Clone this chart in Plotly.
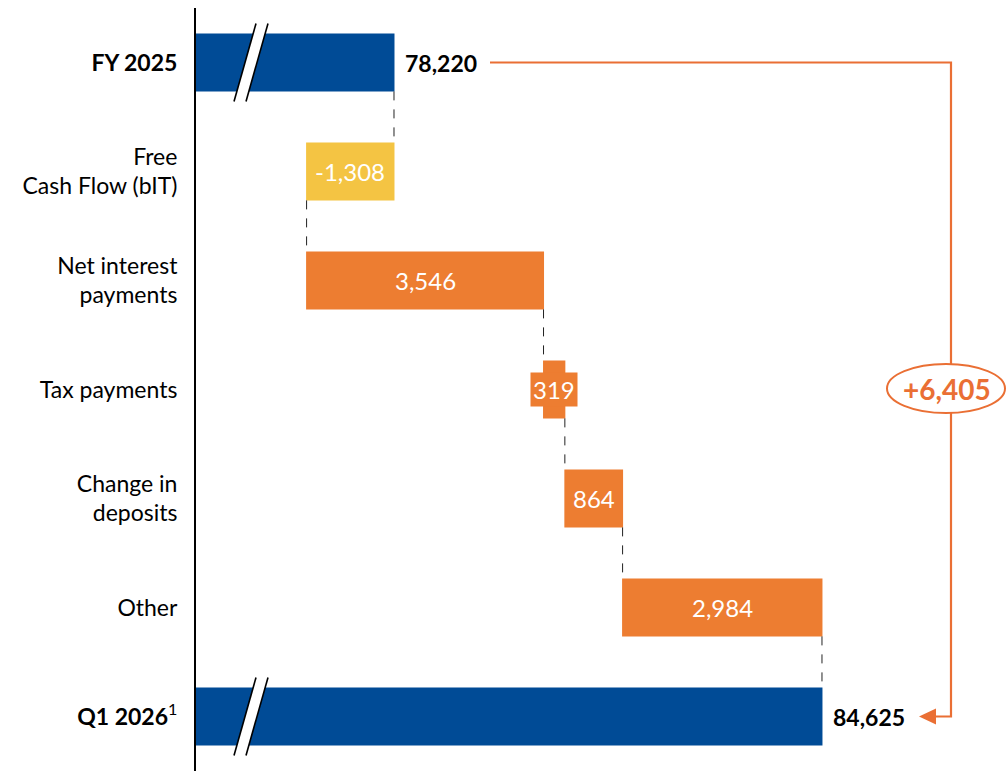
import plotly.graph_objects as go

# --- data -------------------------------------------------------------
categories = ["FY 2025", "Free Cash Flow (bIT)", "Net interest payments",
              "Tax payments", "Change in deposits", "Other", "Q1 2026"]
tick_labels = ["<b>FY 2025</b>", "Free<br>Cash Flow (bIT)", "Net interest<br>payments",
               "Tax payments", "Change in<br>deposits", "Other", "<b>Q1 2026</b><sup>1</sup>"]
values = [78220, -1308, 3546, 319, 864, 2984, 84625]
measures = ["absolute", "relative", "relative", "relative", "relative", "relative", "total"]

BLUE = "#004B96"
ORANGE = "#ED7D31"
YELLOW = "#F4C443"
LINE_ORANGE = "#EA6F34"
FONT = "Lato"

W, H = 1007, 771
ML, MR, MT, MB = 196, 0, 8, 0
PW, PH = W - ML - MR, H - MT - MB
X_MIN, X_MAX = 75257, 87394
n = len(categories)


def px_x(p):
    return (p - ML) / PW


def px_y(p):
    return 1 - (p - MT) / PH


def row_center_px(i):
    return MT + (i + 0.5) * PH / n


def poly(points, close=True):
    d = " ".join(("M" if k == 0 else "L") + f" {px_x(x)} {px_y(y)}"
                 for k, (x, y) in enumerate(points))
    return d + (" Z" if close else "")


fig = go.Figure(go.Waterfall(
    orientation="h",
    y=categories,
    x=[v if m != "total" else 0 for v, m in zip(values, measures)],
    measure=measures,
    width=0.53,
    textinfo="none",
    increasing=dict(marker=dict(color=ORANGE, line=dict(width=0))),
    decreasing=dict(marker=dict(color=YELLOW, line=dict(width=0))),
    totals=dict(marker=dict(color=BLUE, line=dict(width=0))),
    connector=dict(mode="between", line=dict(color="#222222", width=1, dash="dash")),
    hoverinfo="skip",
))

annotations = []
shapes = []

# value labels
running = 0
for i, (cat, v, m) in enumerate(zip(categories, values, measures)):
    if m in ("absolute", "total"):
        if m == "absolute":
            running = v
        annotations.append(dict(x=running, y=cat, xref="x", yref="y", text=f"<b>{running:,}</b>",
                                showarrow=False, xanchor="left", xshift=9,
                                font=dict(family=FONT, size=23, color="black")))
    else:
        start = running
        running += v
        mid = (start + running) / 2
        narrow = abs(v) < 500
        annotations.append(dict(x=mid, y=cat, xref="x", yref="y", text=f"{v:,}",
                                showarrow=False, xanchor="center",
                                bgcolor=ORANGE if narrow else None,
                                borderpad=2 if narrow else 0,
                                font=dict(family=FONT, size=24, color="white")))

# axis break marks on the total bars
for i, m in enumerate(measures):
    if m in ("absolute", "total"):
        cy = row_center_px(i)
        top, bot = cy - 39, cy + 39
        tl, tr, br, bl = (256, top), (268, top), (246, bot), (234, bot)
        shapes.append(dict(type="path", path=poly([tl, tr, br, bl]), xref="paper", yref="paper",
                           fillcolor="white", line=dict(width=0), layer="above"))
        for a, b in ((tl, bl), (tr, br)):
            shapes.append(dict(type="line", xref="paper", yref="paper",
                               x0=px_x(a[0]), y0=px_y(a[1]), x1=px_x(b[0]), y1=px_y(b[1]),
                               line=dict(color="black", width=1.6), layer="above"))

# bracket showing the overall change, ending in an arrow at the closing total
y_top = row_center_px(0)
y_bot = row_center_px(n - 1)
shapes.append(dict(type="path", xref="paper", yref="paper",
                   path=poly([(490, y_top), (951, y_top), (951, y_bot), (934, y_bot)], close=False),
                   line=dict(color=LINE_ORANGE, width=2.2), layer="above"))
shapes.append(dict(type="path", xref="paper", yref="paper",
                   path=poly([(919, y_bot), (936, y_bot - 8), (936, y_bot + 8)]),
                   fillcolor=LINE_ORANGE, line=dict(width=0), layer="above"))
shapes.append(dict(type="circle", xref="paper", yref="paper",
                   x0=px_x(887), x1=px_x(1005), y0=px_y(413), y1=px_y(364),
                   fillcolor="white", line=dict(color=LINE_ORANGE, width=2), layer="above"))
delta = sum(v for v, m in zip(values, measures) if m == "relative")
annotations.append(dict(x=px_x(947), y=px_y(388.5), xref="paper", yref="paper",
                        xanchor="center", yanchor="middle",
                        text=f"<b>+{delta:,}</b>", showarrow=False,
                        font=dict(family=FONT, size=28, color=LINE_ORANGE)))

fig.update_layout(
    width=W, height=H,
    margin=dict(l=ML, r=MR, t=MT, b=MB),
    plot_bgcolor="white", paper_bgcolor="white",
    showlegend=False,
    font=dict(family=FONT, size=23, color="black"),
    xaxis=dict(range=[X_MIN, X_MAX], visible=False, showgrid=False, zeroline=False),
    yaxis=dict(type="category", autorange="reversed",
               tickvals=categories, ticktext=tick_labels,
               showline=True, linecolor="black", linewidth=2,
               showgrid=False, zeroline=False, ticks="",
               ticklabelstandoff=12,
               tickfont=dict(family=FONT, size=23, color="black")),
    annotations=annotations,
    shapes=shapes,
)

fig.write_html("out.html")
